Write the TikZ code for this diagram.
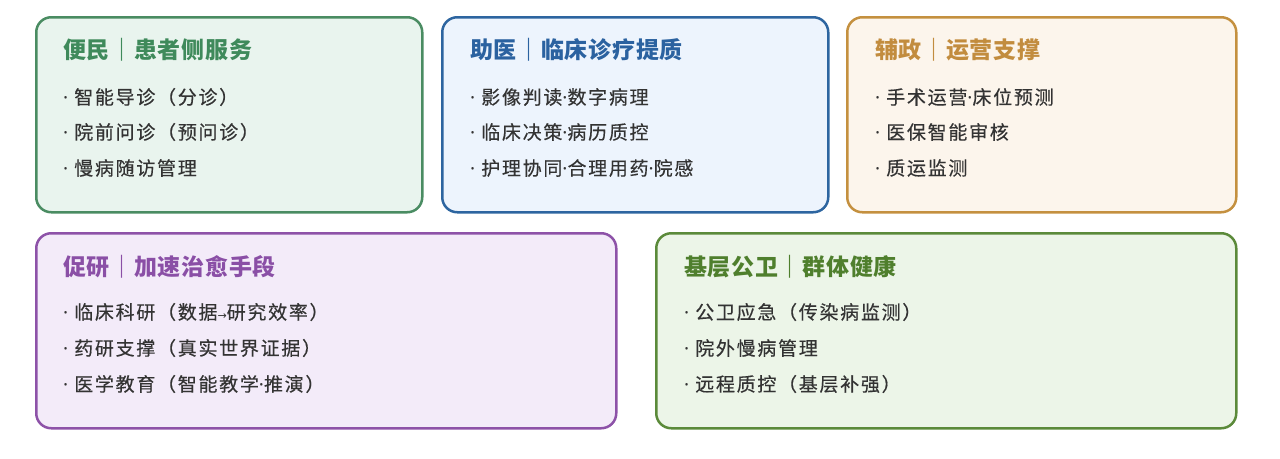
\documentclass[tikz,border=0pt]{standalone}
\usepackage{fontspec}
\setmainfont{Noto Sans CJK SC}
\newfontfamily\titlefont[LetterSpace=3]{Noto Sans CJK SC}
\newfontfamily\itemfont[LetterSpace=9, FakeBold=0.4]{Noto Sans CJK SC}
\newfontfamily\latinfont{Noto Sans}
\newfontfamily\arrowfont{DejaVu Sans}
\newcommand\mdot{{\latinfont ·}}
\newcommand\smallarrow{{\arrowfont\fontsize{11}{11}\selectfont →}}
\usepackage{tikz}
\usetikzlibrary{calc}

\definecolor{minB}{HTML}{4A8C62}
\definecolor{minF}{HTML}{E9F4EE}
\definecolor{minT}{HTML}{3F8A5B}
\definecolor{yiB}{HTML}{2D65A0}
\definecolor{yiF}{HTML}{EDF4FD}
\definecolor{yiT}{HTML}{2B62A0}
\definecolor{zhengB}{HTML}{C4903F}
\definecolor{zhengF}{HTML}{FCF5EC}
\definecolor{zhengT}{HTML}{C28C3E}
\definecolor{yanB}{HTML}{8D52A8}
\definecolor{yanF}{HTML}{F3EBF9}
\definecolor{yanT}{HTML}{8A4FA6}
\definecolor{jcB}{HTML}{5B8A3A}
\definecolor{jcF}{HTML}{ECF5E8}
\definecolor{jcT}{HTML}{4F7F2D}
\definecolor{itemgray}{HTML}{333333}

\tikzset{
  panel/.style={draw, line width=2.5pt, rounded corners=15pt, anchor=north west,
    inner sep=0pt, minimum height=195pt},
  paneltitle/.style={anchor=west, inner sep=0pt, font=\titlefont\bfseries\fontsize{23}{26}\selectfont},
  paneltext/.style={anchor=west, inner sep=0pt, text=itemgray, font=\itemfont\fontsize{19}{22}\selectfont}
}

\begin{document}
\begin{tikzpicture}[x=1pt,y=-1pt]
\useasboundingbox (0,0) rectangle (1280,458);
% top row
\node [panel, draw=minB, fill=minF, minimum width=386pt] (bianmin) at (35,16) {};
\node [panel, draw=yiB, fill=yiF, minimum width=386pt] (zhuyi) at (441,16) {};
\node [panel, draw=zhengB, fill=zhengF, minimum width=389pt] (fuzheng) at (846,16) {};
% bottom row
\node [panel, draw=yanB, fill=yanF, minimum width=580pt] (cuyan) at (35,232) {};
\node [panel, draw=jcB, fill=jcF, minimum width=580pt] (jiceng) at (655,232) {};

\node [paneltitle, text=minT] (bianmintitle) at ($(bianmin.north west)+(28,34)$) {便民｜患者侧服务};
\node [paneltext] (bianmin1) at ($(bianmin.north west)+(28,81)$) {\mdot\ 智能导诊（分诊）};
\node [paneltext] (bianmin2) at ($(bianmin.north west)+(28,116)$) {\mdot\ 院前问诊（预问诊）};
\node [paneltext] (bianmin3) at ($(bianmin.north west)+(28,152)$) {\mdot\ 慢病随访管理};

\node [paneltitle, text=yiT] (zhuyititle) at ($(zhuyi.north west)+(29,34)$) {助医｜临床诊疗提质};
\node [paneltext] (zhuyi1) at ($(zhuyi.north west)+(29,81)$) {\mdot\ 影像判读\mdot 数字病理};
\node [paneltext] (zhuyi2) at ($(zhuyi.north west)+(29,116)$) {\mdot\ 临床决策\mdot 病历质控};
\node [paneltext] (zhuyi3) at ($(zhuyi.north west)+(29,152)$) {\mdot\ 护理协同\mdot 合理用药\mdot 院感};

\node [paneltitle, text=zhengT] (fuzhengtitle) at ($(fuzheng.north west)+(29,34)$) {辅政｜运营支撑};
\node [paneltext] (fuzheng1) at ($(fuzheng.north west)+(29,81)$) {\mdot\ 手术运营\mdot 床位预测};
\node [paneltext] (fuzheng2) at ($(fuzheng.north west)+(29,116)$) {\mdot\ 医保智能审核};
\node [paneltext] (fuzheng3) at ($(fuzheng.north west)+(29,152)$) {\mdot\ 质运监测};

\node [paneltitle, text=yanT] (cuyantitle) at ($(cuyan.north west)+(28,35)$) {促研｜加速治愈手段};
\node [paneltext] (cuyan1) at ($(cuyan.north west)+(28,80)$) {\mdot\ 临床科研（数据\smallarrow 研究效率）};
\node [paneltext] (cuyan2) at ($(cuyan.north west)+(28,116)$) {\mdot\ 药研支撑（真实世界证据）};
\node [paneltext] (cuyan3) at ($(cuyan.north west)+(28,152)$) {\mdot\ 医学教育（智能教学\mdot 推演）};

\node [paneltitle, text=jcT] (jicengtitle) at ($(jiceng.north west)+(29,35)$) {基层公卫｜群体健康};
\node [paneltext] (jiceng1) at ($(jiceng.north west)+(29,80)$) {\mdot\ 公卫应急（传染病监测）};
\node [paneltext] (jiceng2) at ($(jiceng.north west)+(29,116)$) {\mdot\ 院外慢病管理};
\node [paneltext] (jiceng3) at ($(jiceng.north west)+(29,152)$) {\mdot\ 远程质控（基层补强）};
\end{tikzpicture}
\end{document}
